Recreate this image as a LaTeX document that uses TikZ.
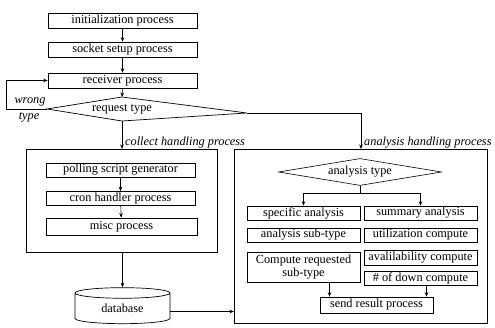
\documentclass[tikz,border=0pt]{standalone}
\usepackage{fontspec}
\setmainfont{Liberation Serif}
\usetikzlibrary{shapes.geometric,arrows.meta}
\begin{document}
\begin{tikzpicture}[x=1pt,y=-1pt,
  font=\fontsize{12.3}{13}\selectfont,
  proc/.style={draw, line width=0.6pt, inner sep=0pt, minimum height=15pt, minimum width=149pt},
  half/.style={draw, line width=0.6pt, inner sep=0pt, minimum height=14pt, minimum width=113pt},
  frame/.style={draw, line width=0.9pt, inner sep=0pt, anchor=north west},
  arr/.style={-{Stealth[length=4.5pt,width=3.5pt]}, line width=0.6pt},
  lbl/.style={font=\fontsize{12.3}{13}\selectfont\itshape, inner sep=1pt},
]
\useasboundingbox (0,0) rectangle (495,328);

% main chain
\node[proc] (init)   at (122.5,20.5) {initialization process};
\node[proc] (socket) at (122.5,49.5) {socket setup process};
\node[proc] (recv)   at (122.5,80.5) {receiver process};
\draw[arr] (init) -- (socket);
\draw[arr] (socket) -- (recv);

% request type decision
\coordinate (rqL) at (47,109);
\coordinate (rqT) at (122,97);
\coordinate (rqR) at (247,113);
\coordinate (rqB) at (122,121);
\draw[line width=0.7pt] (rqL) -- (rqT) -- (rqR) -- (rqB) -- cycle;
\node[inner sep=0pt] (rq) at (122,109) {request type};
\draw[arr] (recv.south) -- (rqT);

% wrong type loop
\coordinate (lp) at (6,109);
\draw[arr] (rqL) -- (lp) |- (recv.west);
\node[lbl] (wr) at (30,102) {wrong};
\node[lbl] (ty) at (29,117) {type};

% handling frames
\node[frame, minimum width=191pt, minimum height=103pt] (collect) at (26,149) {};
\node[frame, minimum width=253pt, minimum height=174pt] (analysis) at (234,149) {};

\coordinate (rqX) at (361,113);
\draw[arr] (rqB) -- (rqB |- collect.north);
\draw[arr] (rqR) -- (rqX) -- (rqX |- analysis.north);
\node[lbl, anchor=south west] (clbl) at ([xshift=2pt]rqB |- collect.north) {collect handling process};
\node[lbl, anchor=south west] (albl) at ([xshift=2pt]rqX |- analysis.north) {analysis handling process};

% collect handling
\node[proc, minimum height=14pt] (poll) at (120.5,170) {polling script generator};
\node[proc, minimum height=14pt] (cron) at (120.5,198.5) {cron handler process};
\node[proc, minimum width=151pt, minimum height=17pt] (misc) at (121.5,226.5) {misc process};
\draw[arr] (poll) -- (cron);
\draw[arr] (cron) -- (misc);

% database
\node[cylinder, shape border rotate=90, draw, line width=0.7pt, inner sep=0pt,
      minimum width=95pt, minimum height=36pt, aspect=0.25] (db) at (122.5,308.5)
      {\raisebox{-4pt}{database}};
\draw[arr] (db.north |- collect.south) -- (db.north);
\draw[arr] ([yshift=-3pt]db.east) -- ([yshift=-3pt]db.east -| analysis.west);

% analysis handling
\node[diamond, draw, line width=0.6pt, inner sep=0pt, shape aspect=6,
      minimum width=163pt, minimum height=27pt] (atype) at (360,172) {analysis type};
\node[half] (spec)  at (303.5,213)   {specific analysis};
\node[half] (summ)  at (420.5,213)   {summary analysis};
\node[half] (sub)   at (303.5,235)   {analysis sub-type};
\node[half] (util)  at (420.5,235)   {utilization compute};
\node[half, minimum height=30pt, align=center] (comp) at (303.5,267) {Compute requested\\sub-type};
\node[half, minimum height=15pt] (avail) at (420.5,257.5) {avalilability compute};
\node[half] (down)  at (420.5,278)   {\# of down compute};
\node[half, minimum height=16pt] (send) at (376.5,305) {send result process};

\draw[line width=0.6pt] (atype.south) -- ++(0,8) coordinate (br);
\draw[arr] (br) -| (spec.north);
\draw[arr] (br) -| (summ.north);
\draw[arr] ([xshift=26pt]comp.south) -- ([xshift=26pt]comp.south |- send.north);
\draw[arr] ([xshift=6pt]down.south) -- ([xshift=6pt]down.south |- send.north);
\end{tikzpicture}
\end{document}
